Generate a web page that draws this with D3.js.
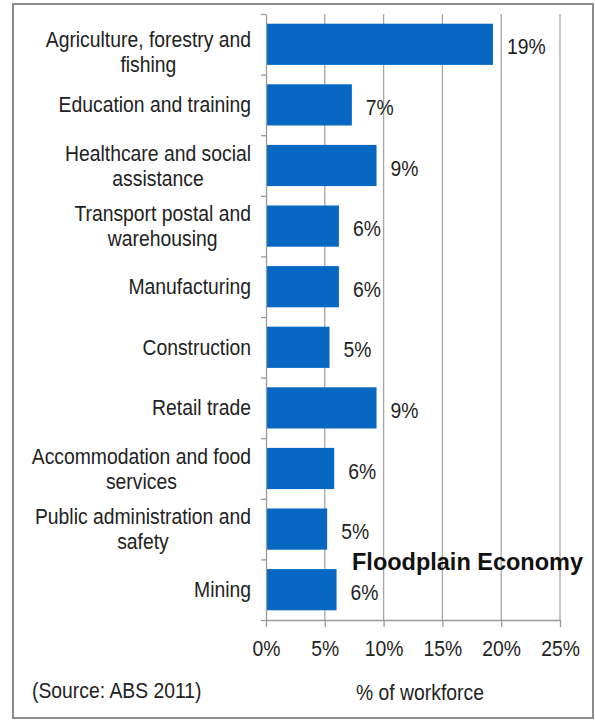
<!DOCTYPE html>
<html>
<head>
<meta charset="utf-8">
<script src="https://cdn.jsdelivr.net/npm/d3@7"></script>
<style>
  html, body { margin: 0; padding: 0; background: #fff; }
  svg { display: block; }
  text { font-family: "Liberation Sans", Arial, sans-serif; fill: #222; }
</style>
</head>
<body>
<svg id="chart" width="595" height="720"></svg>
<script>
// Industry of employment, share of the workforce
const categories = [
  ["Agriculture, forestry and", "fishing"],
  ["Education and training"],
  ["Healthcare and social", "assistance"],
  ["Transport postal and", "warehousing"],
  ["Manufacturing"],
  ["Construction"],
  ["Retail trade"],
  ["Accommodation and food", "services"],
  ["Public administration and", "safety"],
  ["Mining"]
];
const shares = [0.193, 0.073, 0.094, 0.062, 0.062, 0.054, 0.094, 0.058, 0.052, 0.060];
const xTicks = [0, 0.05, 0.10, 0.15, 0.20, 0.25];
const chartTitle = "Floodplain Economy";
const sourceNote = "(Source: ABS 2011)";
const xTitle = "% of workforce";

const svg = d3.select("#chart");
const FS = 22.5;        // font size
const SX = 0.86;        // horizontal squeeze of the narrow sans face

const plot = { left: 266, right: 560, top: 14, bottom: 620 };

const idx = d3.range(categories.length);
const x = d3.scaleLinear().domain([0, 0.25]).range([plot.left, plot.right]);
const y = d3.scaleBand().domain(idx).range([plot.top, plot.bottom])
  .paddingInner(0.32).paddingOuter(0.16);
const yEdges = d3.scaleLinear().domain([0, categories.length]).range([plot.top, plot.bottom]);

// squeezed text helper
function sText(g, tx, ty, str, anchor) {
  return g.append("text")
    .attr("transform", `translate(${tx},${ty}) scale(${SX},1)`)
    .attr("text-anchor", anchor)
    .style("font-size", FS + "px")
    .text(str);
}

// outer frame
svg.append("rect")
  .attr("x", 13).attr("y", 4).attr("width", 580).attr("height", 714)
  .attr("fill", "none").attr("stroke", "#8c8c8c").attr("stroke-width", 2);

// vertical gridlines
svg.append("g").selectAll("line").data(xTicks.slice(1)).join("line")
  .attr("x1", d => x(d)).attr("x2", d => x(d))
  .attr("y1", plot.top).attr("y2", plot.bottom)
  .attr("stroke", "#a6a6a6").attr("stroke-width", 1.3);

// bars
svg.append("g").selectAll("rect").data(shares).join("rect")
  .attr("x", x(0))
  .attr("y", (d, i) => y(i))
  .attr("width", d => x(d) - x(0))
  .attr("height", y.bandwidth())
  .attr("fill", "#0768c4");

// category axis (tick marks only)
const yAxis = svg.append("g")
  .attr("transform", `translate(${plot.left},0)`)
  .call(d3.axisLeft(yEdges).tickValues(d3.range(categories.length + 1))
    .tickFormat("").tickSizeInner(5).tickSizeOuter(0));
yAxis.selectAll("line").attr("stroke", "#9a9a9a").attr("stroke-width", 1.3);
yAxis.select(".domain").attr("stroke", "#9a9a9a").attr("stroke-width", 1.3);

// value axis
const xAxis = svg.append("g")
  .attr("transform", `translate(0,${plot.bottom})`)
  .call(d3.axisBottom(x).tickValues(xTicks).tickFormat(d3.format(".0%"))
    .tickSizeInner(7).tickSizeOuter(0));
xAxis.select(".domain").attr("stroke", "#9a9a9a").attr("stroke-width", 1.3);
xAxis.selectAll(".tick line").attr("stroke", "#9a9a9a").attr("stroke-width", 1.3);
xAxis.selectAll(".tick text").remove();
xAxis.selectAll(".tick").each(function (d) {
  sText(d3.select(this), 0, 36, d3.format(".0%")(d), "middle");
});

// category labels: lines centred on each other, block right-aligned
const labelG = svg.append("g");
const labelRight = 251;
const lineGap = 25;
categories.forEach((lines, i) => {
  const cy = y(i) + y.bandwidth() / 2;
  let first = cy + 7.5 - (lines.length - 1) * lineGap / 2;
  first = Math.max(first, plot.top + 33);
  const g = labelG.append("g");
  const texts = lines.map((ln, k) => sText(g, 0, first + k * lineGap, ln, "middle"));
  const w = d3.max(texts, t => t.node().getComputedTextLength()) * SX;
  const cx = labelRight - w / 2;
  texts.forEach((t, k) =>
    t.attr("transform", `translate(${cx},${first + k * lineGap}) scale(${SX},1)`));
});

// value labels
const valG = svg.append("g");
shares.forEach((d, i) => {
  sText(valG, x(d) + 14, y(i) + y.bandwidth() / 2 + 10, d3.format(".0%")(d), "start");
});

// chart title
svg.append("text")
  .attr("x", 352).attr("y", 570)
  .attr("textLength", 231).attr("lengthAdjust", "spacingAndGlyphs")
  .style("font-size", "23.5px").style("font-weight", "bold").style("fill", "#111")
  .text(chartTitle);

// footnote and axis title
sText(svg, 32, 698, sourceNote, "start");
sText(svg, 420, 700, xTitle, "middle");
</script>
</body>
</html>
